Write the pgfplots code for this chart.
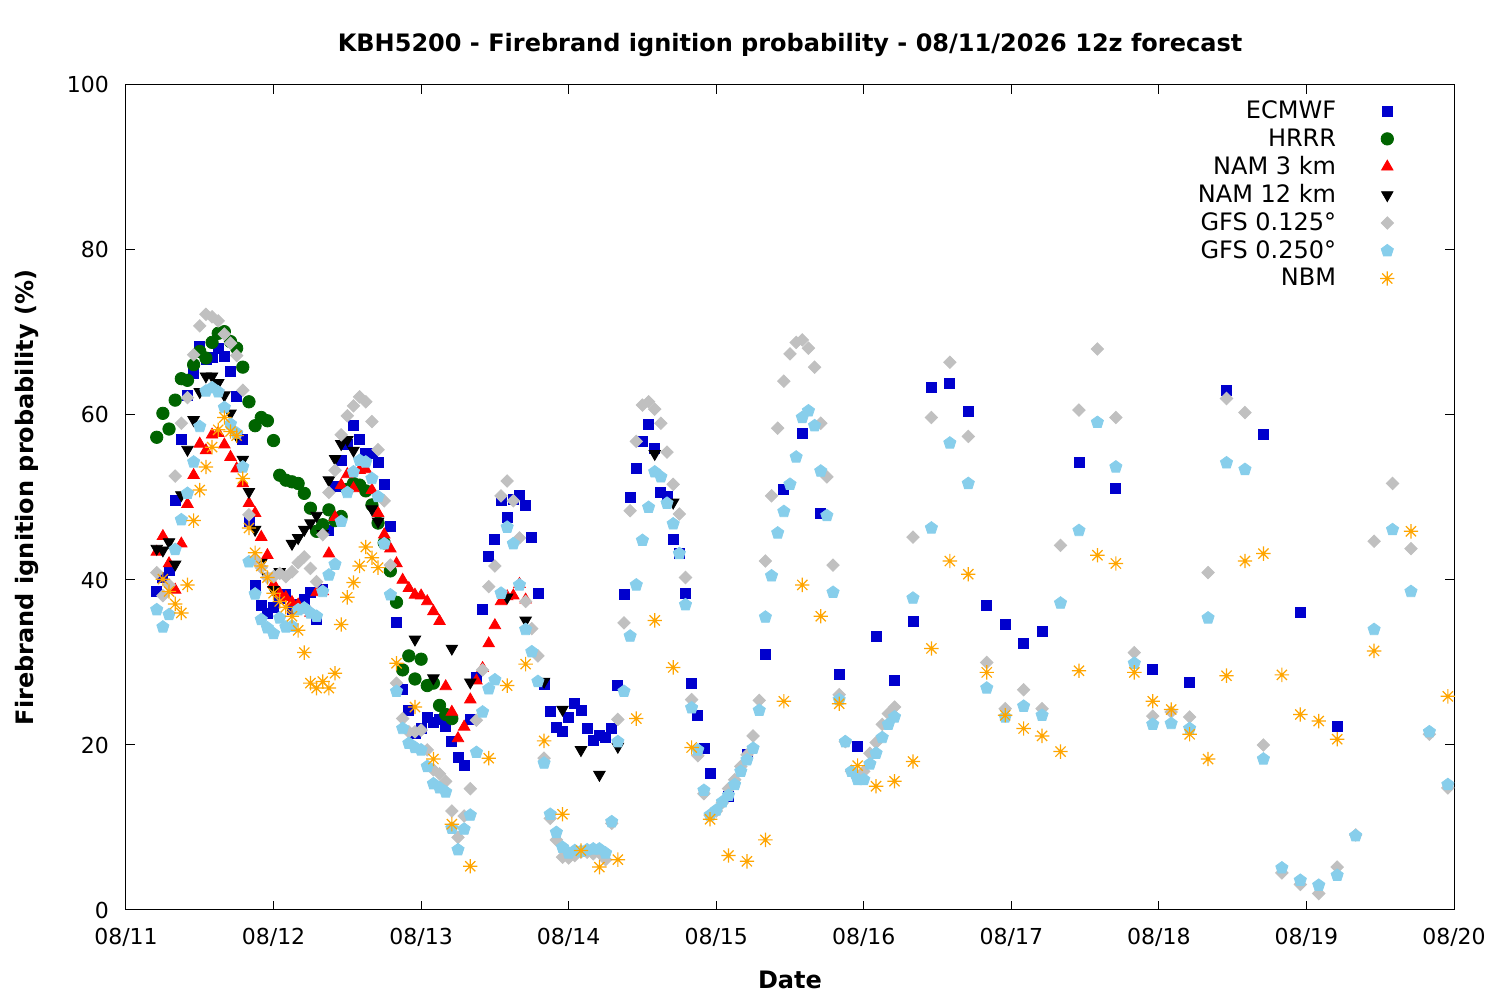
\documentclass[border=0pt]{standalone}
\usepackage{fontspec}
\setmainfont{DejaVu Sans}
\usepackage{pgfplots}
\pgfplotsset{compat=1.18}
\usetikzlibrary{plotmarks}
\definecolor{cec}{RGB}{0,0,205}
\definecolor{chr}{RGB}{0,100,0}
\definecolor{cgfa}{RGB}{192,192,192}
\definecolor{cgfb}{RGB}{135,206,235}
\definecolor{cnbm}{RGB}{255,165,0}
\pgfdeclareplotmark{star8}{%
 \pgfpathmoveto{\pgfqpoint{-\pgfplotmarksize}{0pt}}\pgfpathlineto{\pgfqpoint{\pgfplotmarksize}{0pt}}%
 \pgfpathmoveto{\pgfqpoint{0pt}{-\pgfplotmarksize}}\pgfpathlineto{\pgfqpoint{0pt}{\pgfplotmarksize}}%
 \pgfpathmoveto{\pgfqpoint{-.707\pgfplotmarksize}{-.707\pgfplotmarksize}}\pgfpathlineto{\pgfqpoint{.707\pgfplotmarksize}{.707\pgfplotmarksize}}%
 \pgfpathmoveto{\pgfqpoint{-.707\pgfplotmarksize}{.707\pgfplotmarksize}}\pgfpathlineto{\pgfqpoint{.707\pgfplotmarksize}{-.707\pgfplotmarksize}}%
 \pgfusepathqstroke}
\begin{document}
\begin{tikzpicture}
\begin{axis}[name=ax,
  scale only axis, width=664pt, height=412.5pt,
  xmin=0, xmax=216, ymin=0, ymax=100,
  xtick={0,24,...,216},
  xticklabels={08/11,08/12,08/13,08/14,08/15,08/16,08/17,08/18,08/19,08/20},
  ytick={0,20,...,100},
  tick align=inside, major tick length=4.5pt,
  axis line style={line width=0.5pt}, every tick/.style={black,line width=0.5pt},
  /pgf/number format/assume math mode=true,
  tick label style={font=\fontsize{11}{13}\selectfont},
  xticklabel style={yshift=-5.5pt},
  yticklabel style={xshift=-5pt},
  title={\bfseries KBH5200 - Firebrand ignition probability - 08/11/2026 12z forecast},
  title style={at={(axis description cs:0.5,1.034)}, anchor=center, font=\fontsize{12}{14}\selectfont},
  xlabel={\bfseries Date},
  xlabel style={at={(axis description cs:0.5,-0.0848)}, anchor=center, font=\fontsize{12}{14}\selectfont},
  ylabel={\bfseries Firebrand ignition probability (\%)},
  ylabel style={at={(axis description cs:-0.0745,0.5)}, anchor=center, font=\fontsize{12}{14}\selectfont},
  legend style={draw=none, fill=none, at={(axis description cs:0.96,0.991)}, anchor=north east,
    font=\fontsize{12}{14}\selectfont, row sep=-0.5pt, column sep=20pt, legend cell align=right},
  legend plot pos=right,
]
\addplot[only marks, mark=square*, color=cec, mark size=2.5pt] coordinates {
(5,38.6)(6,40.3)(7,41.2)(8,49.7)(9,57.0)(10,62.4)(11,65.0)(12,68.3)(13,66.7)(14,67.0)(15,68.1)(16,67.1)(17,65.3)(18,62.3)(19,57.0)(20,47.1)(21,39.3)(22,36.9)(23,35.9)(24,36.7)(25,37.8)(26,38.3)(27,36.4)(28,37.1)(29,37.7)(30,38.5)(31,35.2)(32,38.8)(33,46.0)(34,51.3)(35,54.5)(36,56.4)(37,58.7)(38,57.1)(39,55.3)(40,55.3)(41,54.3)(42,51.6)(43,46.5)(44,34.8)(45,26.7)(46,24.2)(47,21.4)(48,22.0)(49,23.4)(50,22.7)(51,23.1)(52,22.2)(53,20.4)(54,18.5)(55,17.5)(56,23.1)(57,28.2)(58,36.4)(59,42.9)(60,44.9)(61,49.7)(62,47.6)(63,49.8)(64,50.2)(65,49.0)(66,45.2)(67,38.4)(68,27.4)(69,24.1)(70,22.1)(71,21.7)(72,23.4)(73,25.0)(74,24.2)(75,22.0)(76,20.6)(77,21.2)(78,20.9)(79,22.0)(80,27.2)(81,38.3)(82,50.0)(83,53.5)(84,56.8)(85,58.9)(86,56.0)(87,50.6)(88,50.1)(89,44.9)(90,43.2)(91,38.4)(92,27.5)(93,23.6)(94,19.6)(95,16.6)(98,13.8)(101,18.8)(104,31.0)(107,51.0)(110,57.8)(113,48.1)(116,28.6)(119,19.8)(122,33.2)(125,27.8)(128,35.0)(131,63.4)(134,63.8)(137,60.4)(140,36.9)(143,34.6)(146,32.3)(149,33.8)(155,54.3)(161,51.1)(167,29.2)(173,27.6)(179,63.0)(185,57.6)(191,36.1)(197,22.3)
};
\addlegendentry{ECMWF}
\addplot[only marks, mark=*, color=chr, mark size=3.1pt] coordinates {
(5,57.3)(6,60.2)(7,58.3)(8,61.8)(9,64.4)(10,64.2)(11,66.1)(12,67.7)(13,66.9)(14,68.8)(15,69.9)(16,70.1)(17,68.9)(18,68.1)(19,65.8)(20,61.6)(21,58.7)(22,59.7)(23,59.3)(24,56.9)(25,52.7)(26,52.1)(27,51.9)(28,51.7)(29,50.5)(30,48.7)(31,45.9)(32,46.7)(33,48.5)(34,47.2)(35,47.7)(36,51.0)(37,51.7)(38,51.5)(39,50.8)(40,49.1)(41,46.9)(42,44.5)(43,41.1)(44,37.3)(45,29.1)(46,30.8)(47,28.0)(48,30.4)(49,27.2)(50,27.5)(51,24.8)(52,23.7)(53,23.2)
};
\addlegendentry{HRRR}
\addplot[only marks, mark=triangle*, color=red, mark size=3.3pt] coordinates {
(5,43.4)(6,45.3)(7,42.0)(8,38.8)(9,44.4)(10,49.2)(11,52.7)(12,56.5)(13,55.7)(14,57.6)(15,57.8)(16,56.4)(17,54.9)(18,53.5)(19,51.7)(20,49.3)(21,48.1)(22,45.2)(23,43.0)(24,39.5)(25,38.4)(26,37.9)(27,37.3)(28,37.0)(29,36.4)(30,36.0)(31,38.5)(32,38.6)(33,43.2)(34,47.6)(35,51.5)(36,52.8)(37,51.1)(38,53.3)(39,53.4)(40,50.9)(41,48.1)(42,45.5)(43,43.8)(44,42.0)(45,40.0)(46,39.0)(47,38.2)(48,38.1)(49,37.4)(50,36.2)(51,35.0)(52,27.1)(53,24.0)(54,20.8)(55,22.2)(56,25.5)(57,27.8)(58,29.3)(59,32.3)(60,34.5)(61,37.4)(62,38.0)(63,38.1)(64,39.5)(65,37.6)
};
\addlegendentry{NAM 3 km}
\addplot[only marks, mark=triangle*, mark options={rotate=180}, color=black, mark size=3.3pt] coordinates {
(5,43.8)(6,43.6)(7,44.6)(8,41.9)(9,50.3)(10,55.8)(11,59.4)(12,62.8)(13,64.7)(14,64.7)(15,63.9)(16,62.4)(17,60.2)(18,57.5)(19,54.6)(20,50.7)(21,46.1)(22,42.1)(23,40.4)(24,38.8)(25,41.0)(27,44.4)(28,45.1)(29,46.1)(30,46.9)(31,47.8)(32,45.6)(33,52.1)(34,54.7)(35,56.5)(36,57.0)(37,55.7)(40,48.6)(41,47.1)(47,32.8)(50,28.1)(53,31.7)(56,27.6)(62,37.9)(65,35.1)(68,27.7)(71,24.3)(74,19.4)(77,16.4)(80,19.8)(86,55.3)(89,49.4)
};
\addlegendentry{NAM 12 km}
\addplot[only marks, mark=square*, mark options={rotate=45}, color=cgfa, mark size=2.2pt] coordinates {
(5,40.9)(6,38.1)(7,39.4)(8,52.6)(9,59.0)(10,62.1)(11,67.3)(12,70.8)(13,72.2)(14,71.9)(15,71.4)(16,69.8)(17,68.7)(18,67.2)(19,63.0)(20,47.9)(21,42.5)(22,41.5)(23,40.3)(24,40.4)(25,40.8)(26,40.4)(27,41.0)(28,42.1)(29,42.8)(30,41.4)(31,39.8)(32,45.5)(33,50.6)(34,53.3)(35,57.6)(36,59.9)(37,61.1)(38,62.2)(39,61.6)(40,59.2)(41,55.8)(42,49.6)(43,41.8)(44,27.5)(45,23.2)(46,21.6)(47,21.6)(48,21.8)(49,19.4)(50,17.0)(51,16.5)(52,15.6)(53,12.0)(54,8.8)(55,11.4)(56,14.7)(57,23.0)(58,29.1)(59,39.2)(60,41.7)(61,50.2)(62,52.0)(63,49.6)(64,45.1)(65,37.4)(66,34.1)(67,30.8)(68,18.4)(69,11.1)(70,8.5)(71,6.4)(72,6.3)(73,6.6)(74,7.0)(75,7.0)(76,6.8)(77,6.9)(78,6.1)(79,10.5)(80,23.1)(81,34.8)(82,48.4)(83,56.8)(84,61.2)(85,61.6)(86,60.7)(87,59.0)(88,55.5)(89,51.6)(90,48.0)(91,40.3)(92,25.5)(93,18.7)(94,14.1)(95,11.5)(96,12.0)(97,13.0)(98,14.7)(99,15.8)(100,17.4)(101,18.8)(102,21.1)(103,25.4)(104,42.3)(105,50.2)(106,58.4)(107,64.1)(108,67.4)(109,68.8)(110,69.1)(111,68.1)(112,65.8)(113,59.0)(114,52.5)(115,41.8)(116,26.1)(117,20.4)(118,16.8)(119,16.0)(120,16.8)(121,19.0)(122,20.3)(123,22.5)(124,23.8)(125,24.6)(128,45.2)(131,59.7)(134,66.4)(137,57.4)(140,30.0)(143,24.4)(146,26.7)(149,24.4)(152,44.2)(155,60.6)(158,68.0)(161,59.7)(164,31.2)(167,23.5)(170,24.0)(173,23.4)(176,40.9)(179,62.0)(182,60.3)(185,20.0)(188,4.5)(191,3.1)(194,2.0)(197,5.2)(200,9.1)(203,44.7)(206,51.7)(209,43.8)(212,21.3)(215,14.8)
};
\addlegendentry{GFS 0.125°}
\addplot[only marks, mark=pentagon*, color=cgfb, mark size=3.2pt] coordinates {
(5,36.4)(6,34.3)(7,35.8)(8,43.7)(9,47.3)(10,50.5)(11,54.3)(12,58.6)(13,62.9)(14,63.3)(15,62.8)(16,60.9)(17,58.9)(18,57.8)(19,53.7)(20,42.2)(21,38.3)(22,35.2)(23,34.2)(24,33.5)(25,35.4)(26,34.3)(27,34.4)(28,36.4)(29,36.6)(30,36.0)(31,35.6)(32,38.6)(33,40.6)(34,41.9)(35,47.1)(36,50.6)(37,53.1)(38,54.5)(39,54.3)(40,52.3)(41,50.1)(42,44.4)(43,38.2)(44,26.5)(45,22.0)(46,20.2)(47,19.7)(48,19.4)(49,17.4)(50,15.3)(51,14.8)(52,14.3)(53,9.9)(54,7.3)(55,9.8)(56,11.5)(57,19.1)(58,24.0)(59,26.8)(60,27.9)(61,38.4)(62,46.4)(63,44.4)(64,39.4)(65,34.0)(66,31.3)(67,27.7)(68,17.8)(69,11.6)(70,9.4)(71,7.6)(72,6.9)(73,7.2)(74,7.1)(75,7.3)(76,7.4)(77,7.4)(78,6.9)(79,10.7)(80,20.4)(81,26.5)(82,33.2)(83,39.4)(84,44.8)(85,48.8)(86,53.1)(87,52.5)(88,49.3)(89,46.8)(90,43.2)(91,37.0)(92,24.5)(93,19.4)(94,14.5)(95,11.5)(96,12.1)(97,13.1)(98,13.9)(99,15.2)(100,16.8)(101,18.2)(102,19.6)(103,24.2)(104,35.5)(105,40.5)(106,45.7)(107,48.3)(108,51.6)(109,54.9)(110,59.7)(111,60.5)(112,58.7)(113,53.2)(114,47.8)(115,38.5)(116,25.5)(117,20.4)(118,16.8)(119,15.8)(120,15.8)(121,17.7)(122,19.0)(123,20.9)(124,22.5)(125,23.4)(128,37.8)(131,46.3)(134,56.6)(137,51.7)(140,26.9)(143,23.4)(146,24.7)(149,23.6)(152,37.2)(155,46.0)(158,59.1)(161,53.7)(164,29.9)(167,22.5)(170,22.6)(173,22.0)(176,35.4)(179,54.2)(182,53.4)(185,18.3)(188,5.1)(191,3.6)(194,3.0)(197,4.2)(200,9.0)(203,34.0)(206,46.1)(209,38.6)(212,21.6)(215,15.2)
};
\addlegendentry{GFS 0.250°}
\addplot[only marks, mark=star8, color=cnbm, mark size=3.6pt, mark options={line width=0.6pt}] coordinates {
(6,40.1)(7,38.6)(8,37.1)(9,36.0)(10,39.4)(11,47.2)(12,50.9)(13,53.7)(14,56.1)(15,58.2)(16,59.7)(17,58.0)(18,57.5)(19,52.3)(20,46.3)(21,43.3)(22,41.7)(23,40.3)(24,38.4)(25,37.4)(26,36.7)(27,35.6)(28,33.9)(29,31.2)(30,27.5)(31,26.9)(32,27.7)(33,26.9)(34,28.7)(35,34.6)(36,37.9)(37,39.7)(38,41.7)(39,44.0)(40,42.7)(41,41.5)(44,29.9)(47,24.6)(50,18.3)(53,10.4)(56,5.3)(59,18.4)(62,27.2)(65,29.8)(68,20.5)(71,11.6)(74,7.2)(77,5.2)(80,6.1)(83,23.2)(86,35.1)(89,29.4)(92,19.7)(95,11.0)(98,6.6)(101,5.9)(104,8.5)(107,25.3)(110,39.4)(113,35.6)(116,25.0)(119,17.5)(122,15.0)(125,15.6)(128,18.0)(131,31.7)(134,42.3)(137,40.7)(140,28.8)(143,23.6)(146,22.0)(149,21.1)(152,19.2)(155,29.0)(158,43.0)(161,42.0)(164,28.8)(167,25.3)(170,24.3)(173,21.3)(176,18.3)(179,28.4)(182,42.3)(185,43.2)(188,28.5)(191,23.7)(194,22.9)(197,20.7)(203,31.4)(209,45.9)(215,25.9)
};
\addlegendentry{NBM}
\end{axis}
\path ([xshift=-63pt,yshift=-45pt]ax.south west) rectangle ([xshift=23pt,yshift=42.5pt]ax.north east);
\end{tikzpicture}
\end{document}
